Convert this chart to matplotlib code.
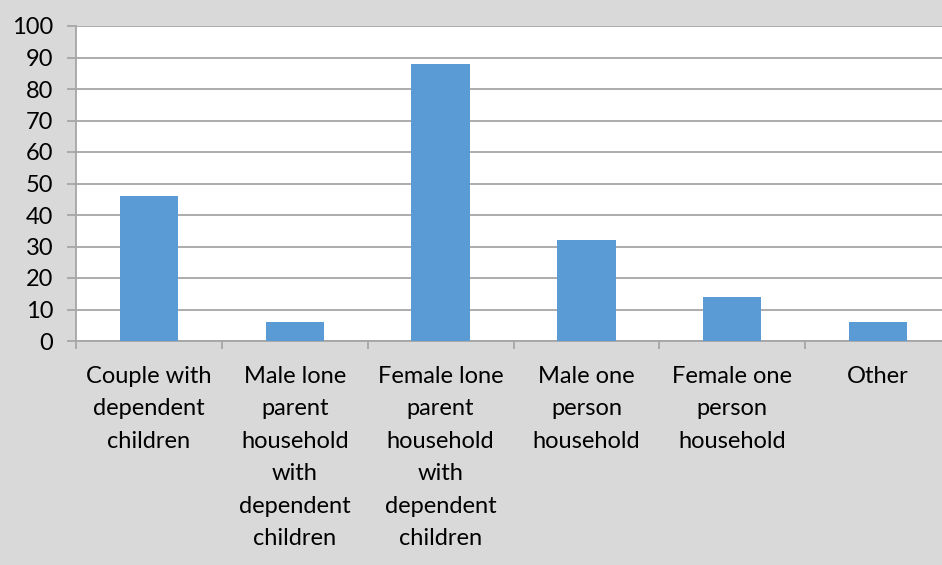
import numpy as np
import matplotlib.pyplot as plt

plt.rcParams['font.family'] = ['Lato', 'DejaVu Sans']

categories = [
    "Couple with\ndependent\nchildren",
    "Male lone\nparent\nhousehold\nwith\ndependent\nchildren",
    "Female lone\nparent\nhousehold\nwith\ndependent\nchildren",
    "Male one\nperson\nhousehold",
    "Female one\nperson\nhousehold",
    "Other",
]
values = [46, 6, 88, 32, 14, 6]
yticks = list(range(0, 101, 10))

bg = '#d9d9d9'
grid = '#a6a6a6'
blue = '#5b9bd5'

fig = plt.figure(figsize=(9.42, 5.65), dpi=100, facecolor=bg)
# plot area runs a little past the right edge of the image
ax = fig.add_axes([76 / 942, 1 - 341 / 565, 875 / 942, 315 / 565])
ax.set_facecolor('white')

x = np.arange(len(values))
ax.bar(x, values, width=0.4, color=blue, zorder=3)

ax.set_xlim(-0.5, len(values) - 0.5)
ax.set_ylim(0, 100)
ax.set_yticks(yticks)
ax.yaxis.grid(True, color=grid, linewidth=1.3, zorder=0)

ax.set_xticks(x)
ax.set_xticklabels(categories, fontsize=17, linespacing=1.67, va='top')
ax.set_xticks(np.arange(len(values) + 1) - 0.5, minor=True)
ax.tick_params(axis='x', which='major', length=0, pad=18)
ax.tick_params(axis='x', which='minor', length=6, width=1.3, color=grid, direction='out')
ax.tick_params(axis='y', length=6.5, width=1.3, color=grid, pad=10, labelsize=17)

for s in ['top', 'right']:
    ax.spines[s].set_visible(False)
for s in ['left', 'bottom']:
    ax.spines[s].set_color(grid)
    ax.spines[s].set_linewidth(1.3)

fig.savefig('out.png', dpi=100, facecolor=bg)
